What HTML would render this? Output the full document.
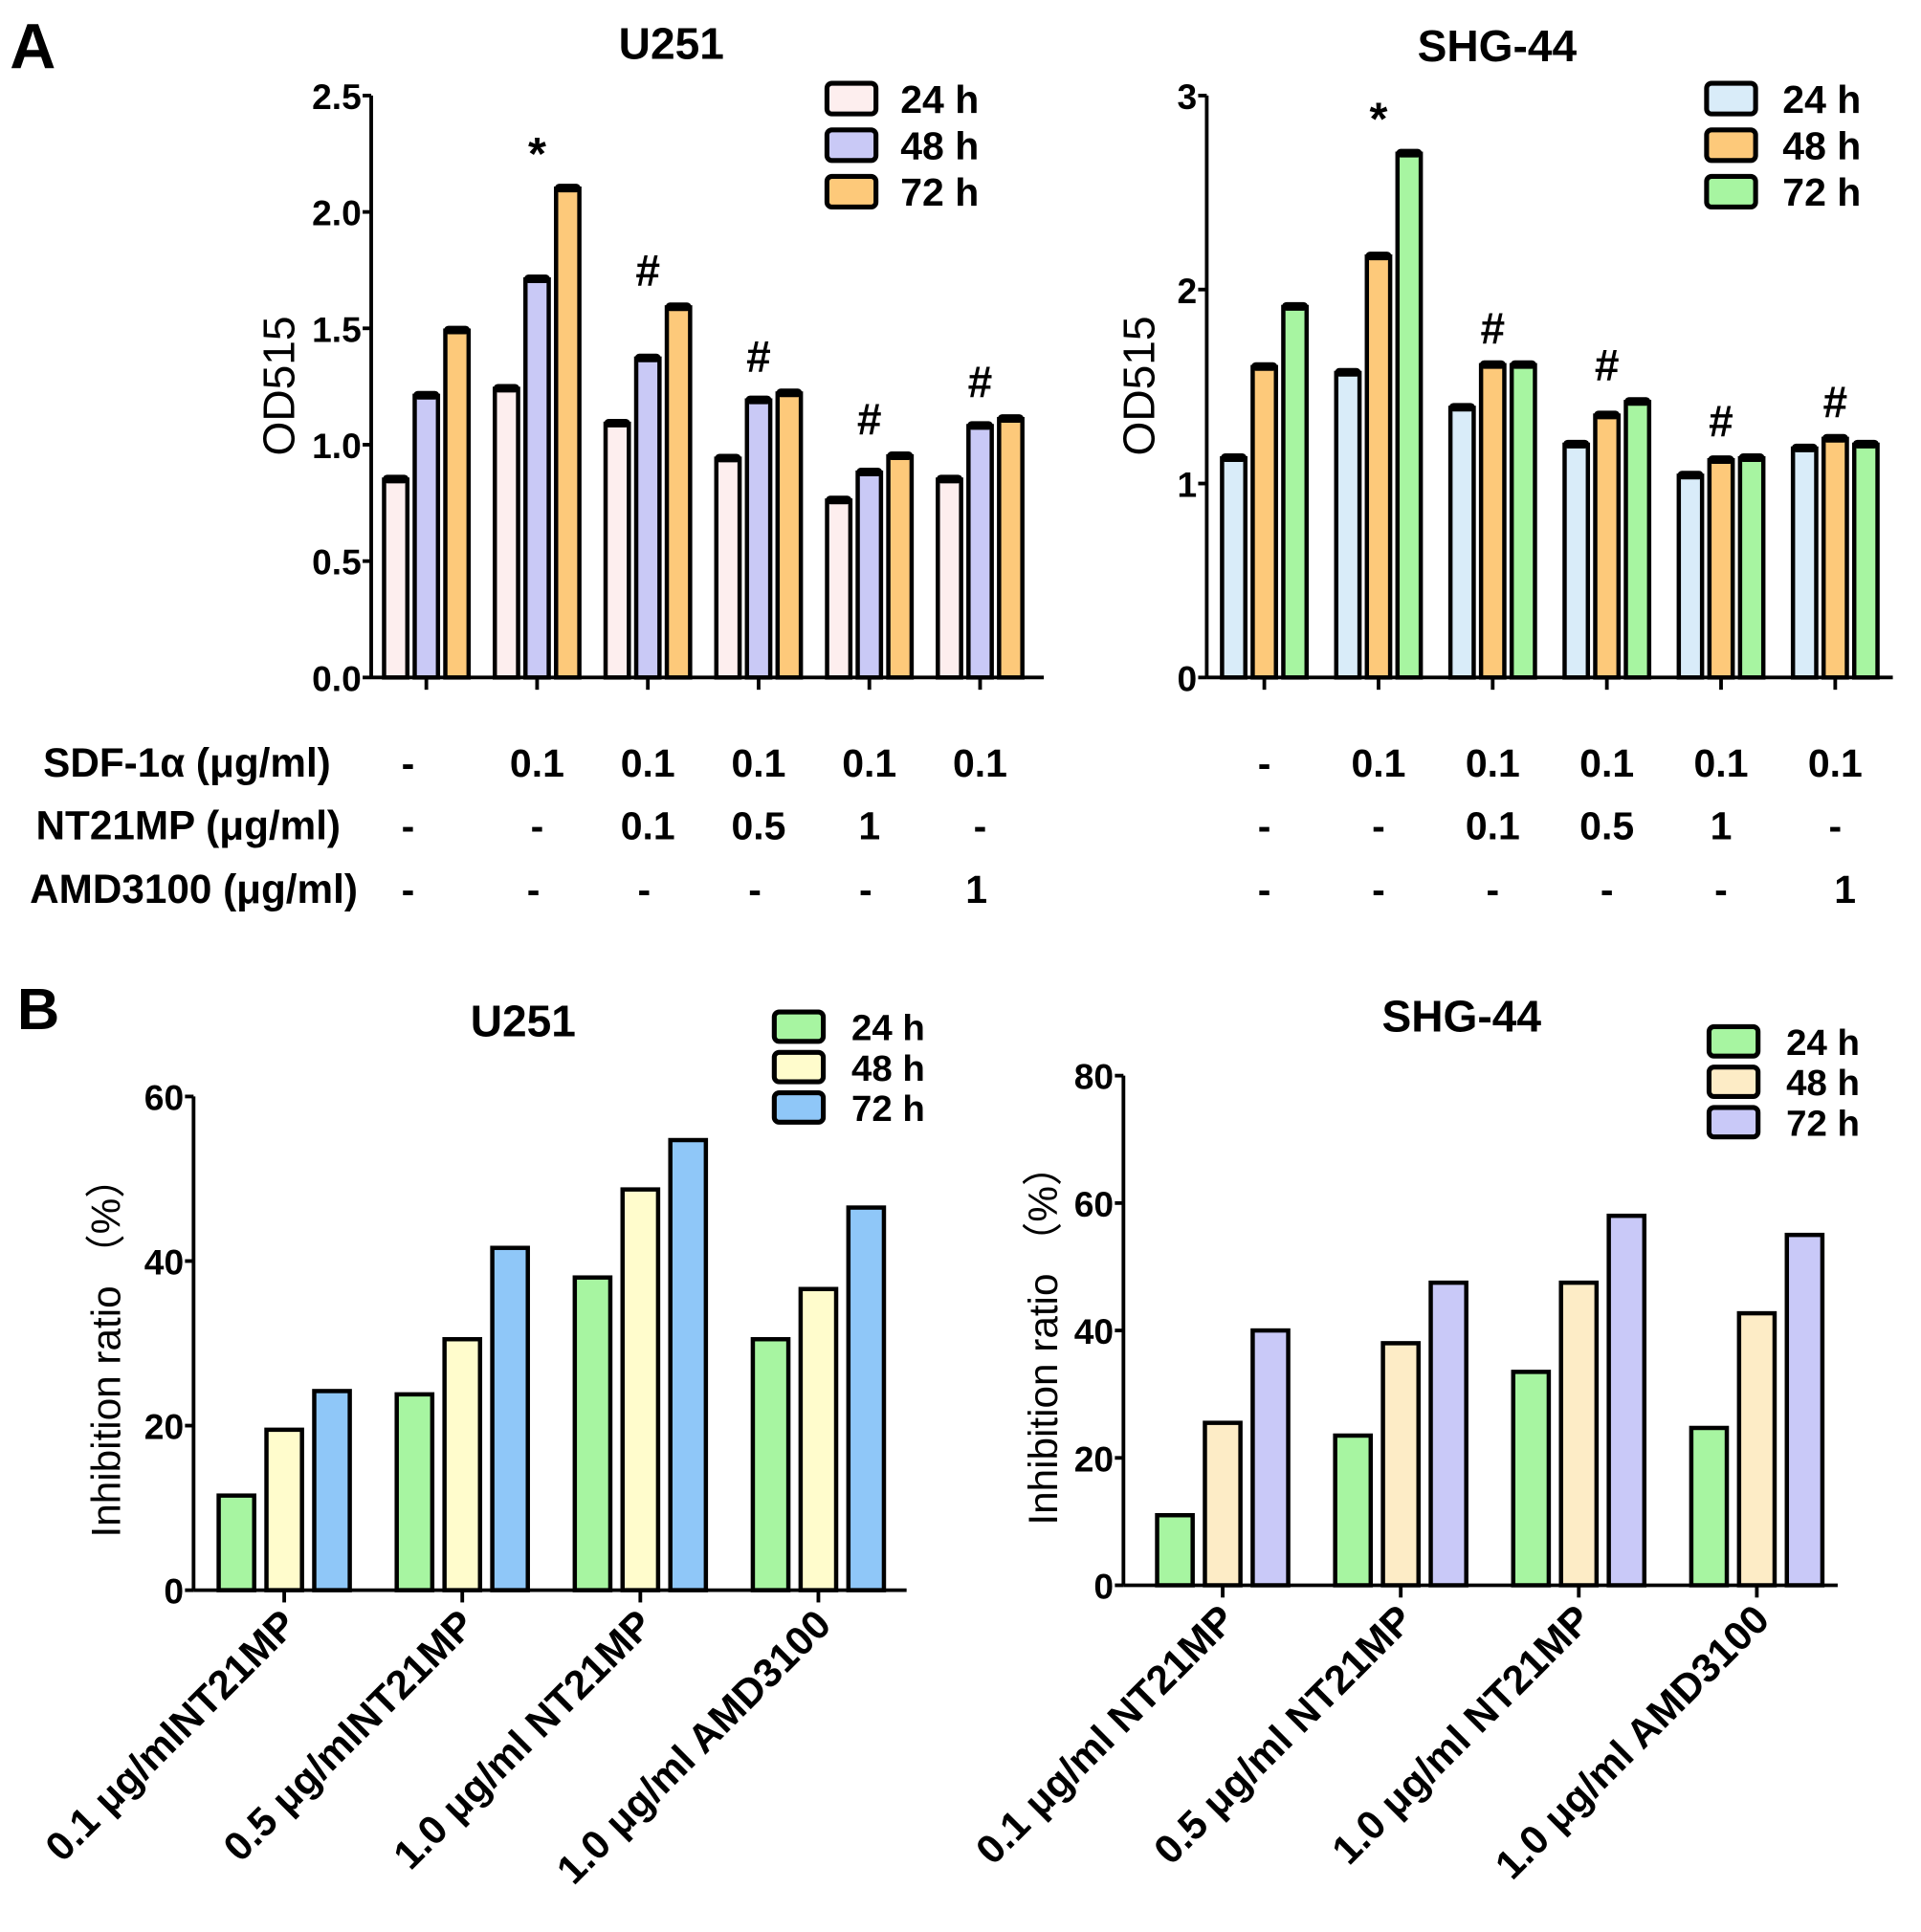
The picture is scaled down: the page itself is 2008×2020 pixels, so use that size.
<!DOCTYPE html>
<html><head><meta charset="utf-8"><style>
html,body{margin:0;padding:0;background:#fff;}
svg{display:block;}
text{font-family:"Liberation Sans","DejaVu Sans",sans-serif;font-weight:bold;fill:#000;}
.n{font-family:"Liberation Sans Narrow","Liberation Sans",sans-serif;}
</style></head><body>
<svg id="fig" width="2008" height="2020" viewBox="0 0 1568 1577" preserveAspectRatio="none" xmlns="http://www.w3.org/2000/svg">
<text x="8" y="56" font-size="52">A</text>
<text x="14" y="840" font-size="48">B</text>
</svg>
<script>
// ---- Panel A U251 data ----
const aGroups = ["g1","g2","g3","g4","g5","g6"];
const aU251_24 = [0.85,1.24,1.09,0.94,0.76,0.85];
const aU251_48 = [1.21,1.71,1.37,1.19,0.88,1.08];
const aU251_72 = [1.49,2.10,1.59,1.22,0.95,1.11];
const aU251Ticks = ["0.0","0.5","1.0","1.5","2.0","2.5"];
const aU251Marks = ["","*","#","#","#","#"];
// ---- Panel A SHG-44 data ----
const aSHG_24 = [1.13,1.57,1.39,1.20,1.04,1.18];
const aSHG_48 = [1.60,2.17,1.61,1.35,1.12,1.23];
const aSHG_72 = [1.91,2.70,1.61,1.42,1.13,1.20];
const aSHGTicks = ["0","1","2","3"];
const aSHGMarks = ["","*","#","#","#","#"];
const rowSDF = ["-","0.1","0.1","0.1","0.1","0.1"];
const rowNT = ["-","-","0.1","0.5","1","-"];
const rowAMD = ["-","-","-","-","-","1"];
// ---- Panel B data ----
const bCats = ["0.1 μg/mlNT21MP","0.5 μg/mlNT21MP","1.0 μg/ml NT21MP","1.0 μg/ml AMD3100"];
const bCatsSHG = ["0.1 μg/ml NT21MP","0.5 μg/ml NT21MP","1.0 μg/ml NT21MP","1.0 μg/ml  AMD3100"];
const bU251_24 = [11.5,23.8,38.0,30.5];
const bU251_48 = [19.5,30.5,48.7,36.6];
const bU251_72 = [24.2,41.6,54.7,46.5];
const bU251Ticks = [0,20,40,60];
const bSHG_24 = [11.0,23.5,33.5,24.7];
const bSHG_48 = [25.5,38.0,47.5,42.7];
const bSHG_72 = [40.0,47.5,58.0,55.0];
const bSHGTicks = [0,20,40,60,80];

const svg=document.getElementById('fig');
const NS="http://www.w3.org/2000/svg";
function mk(tag,attrs,parent){const e=document.createElementNS(NS,tag);for(const k in attrs)e.setAttribute(k,attrs[k]);(parent||svg).appendChild(e);return e;}
function txt(x,y,s,size,anchor,cls,parent){const t=mk('text',{x:x,y:y,'font-size':size,'text-anchor':anchor||'start'},parent);if(cls)t.setAttribute('class',cls);t.textContent=s;return t;}

function chart(o){
  const g=mk('g',{});
  
  
  const y=v=>o.y0-(v/o.ymax)*(o.y0-o.ytop);
  const n=o.series[0].length;
  const cx=i=>o.x1+(o.x2-o.x1)*i/(n-1);
  o.series.forEach((s,si)=>{
    s.forEach((v,i)=>{
      const c=cx(i)+(si-1)*o.stride;
      const r=mk('rect',{x:c-o.bw/2,y:y(v),width:o.bw,height:o.y0-y(v),fill:o.colors[si],stroke:'#000','stroke-width':o.sw},g);
      
      
      if(o.err){const e=mk('rect',{x:c-o.bw/2-1,y:y(v)-4,width:o.bw+2,height:7,rx:3.5,fill:'#000'},g);
        }
    });
  });
  const ya=mk('line',{x1:o.ax,y1:o.ytop,x2:o.ax,y2:o.y0,stroke:'#000','stroke-width':3},g);
  
  const xa=mk('line',{x1:o.ax,y1:o.y0,x2:o.xend,y2:o.y0,stroke:'#000','stroke-width':3},g);
  
  o.ticks.forEach(t=>{
    const v=parseFloat(t);
    mk('line',{x1:o.ax-7,y1:y(v),x2:o.ax,y2:y(v),stroke:'#000','stroke-width':3},g);
    const tl=txt(o.ax-8,y(v)+11,String(t),o.tfs,'end','n',g);
    
  });
  for(let i=0;i<n;i++) mk('line',{x1:cx(i),y1:o.y0,x2:cx(i),y2:o.y0+10,stroke:'#000','stroke-width':3},g);
  if(o.marks){o.marks.forEach((m,i)=>{if(!m)return;
    const top=Math.max(...o.series.map(s=>s[i]));
    const mt=txt(cx(i),y(top)-(m=='*'?16:18),m,m=='*'?38:36,'middle',null,g);
    });}
  const ti=txt(o.titleX,o.titleY,o.title,36,'middle',null,g);
  
  o.labels.forEach((l,i)=>{
    const r=mk('rect',{x:o.lx,y:o.ly+i*o.lstep,width:40,height:o.lh,rx:4,fill:o.colors[i],stroke:'#000','stroke-width':4},g);
    
    const lt=txt(o.lx+o.ltx,o.ly+i*o.lstep+o.lh-1,l,o.lfs,'start',o.lcls,g);
    
  });
  const yl=txt(0,0,o.ylabel,o.ylfs,'middle',null,g);
  yl.setAttribute('style','font-weight:normal');
  yl.setAttribute('transform','translate('+o.ylx+','+o.yly+') rotate(-90)');
  
  if(o.cats){o.cats.forEach((c,i)=>{
    const t=txt(0,0,c,33,'end',null,g);
    t.setAttribute('transform','translate('+(cx(i)+12)+','+(o.y0+30)+') rotate(-45)');
    
  });}
  return cx;
}

const cxA1=chart({name:'chart-a-u251',series:[aU251_24,aU251_48,aU251_72],colors:['#fdeeee','#c9c9f6','#fdc97a'],labels:['24 h','48 h','72 h'],
  x1:348,x2:800,stride:25,bw:19,sw:3.5,err:true,ax:303,xend:852,y0:553,ytop:78,ymax:2.5,ticks:aU251Ticks,tfs:29,marks:aU251Marks,
  title:'U251',titleX:548,titleY:48,lx:675,ly:68,lstep:38,lh:25,ltx:60,lfs:32,lcls:'n',ylabel:'OD515',ylfs:36,ylx:240,yly:315});
const cxA2=chart({name:'chart-a-shg44',series:[aSHG_24,aSHG_48,aSHG_72],colors:['#d9ecf9','#fdc97a','#a7f5a1'],labels:['24 h','48 h','72 h'],
  x1:1032,x2:1498,stride:25,bw:19,sw:3.5,err:true,ax:985,xend:1545,y0:553,ytop:78,ymax:3,ticks:aSHGTicks,tfs:29,marks:aSHGMarks,
  title:'SHG-44',titleX:1222,titleY:50,lx:1393,ly:68,lstep:38,lh:25,ltx:62,lfs:32,lcls:'n',ylabel:'OD515',ylfs:36,ylx:942,yly:315});

const rowsY=[634,685,737];
const rowLabels=['SDF-1α (μg/ml)','NT21MP (μg/ml)','AMD3100 (μg/ml)'];
const rowRight=[270,278,292];
[rowSDF,rowNT,rowAMD].forEach((row,ri)=>{
  const l=txt(rowRight[ri],rowsY[ri],rowLabels[ri],33,'end');
  
  row.forEach((v,i)=>{
    const a=txt(i==0?333:cxA1(i)-(ri==2?3:0),rowsY[ri],v,32,'middle');
    
    const b=txt(cxA2(i)+(ri==2&&i==5?8:0),rowsY[ri],v,32,'middle');
    
  });
});

chart({name:'chart-b-u251',series:[bU251_24,bU251_48,bU251_72],colors:['#a7f5a1','#fffccc','#8fc7f8'],labels:['24 h','48 h','72 h'],
  x1:232,x2:668,stride:39,bw:29,sw:3.5,err:false,ax:158,xend:740,y0:1298,ytop:895,ymax:60,ticks:bU251Ticks,tfs:29,
  title:'U251',titleX:427,titleY:846,lx:632,ly:826,lstep:33,lh:24,ltx:63,lfs:30,lcls:null,ylabel:'Inhibition ratio （%）',ylfs:33,ylx:98,yly:1100,cats:bCats});
chart({name:'chart-b-shg44',series:[bSHG_24,bSHG_48,bSHG_72],colors:['#a7f5a1','#fdecc6','#c9c9f8'],labels:['24 h','48 h','72 h'],
  x1:998,x2:1434,stride:39,bw:29,sw:3.5,err:false,ax:917,xend:1500,y0:1294,ytop:878,ymax:80,ticks:bSHGTicks,tfs:29,
  title:'SHG-44',titleX:1193,titleY:842,lx:1395,ly:838,lstep:33,lh:24,ltx:63,lfs:30,lcls:null,ylabel:'Inhibition ratio （%）',ylfs:33,ylx:863,yly:1090,cats:bCatsSHG});
</script>
</body></html>
